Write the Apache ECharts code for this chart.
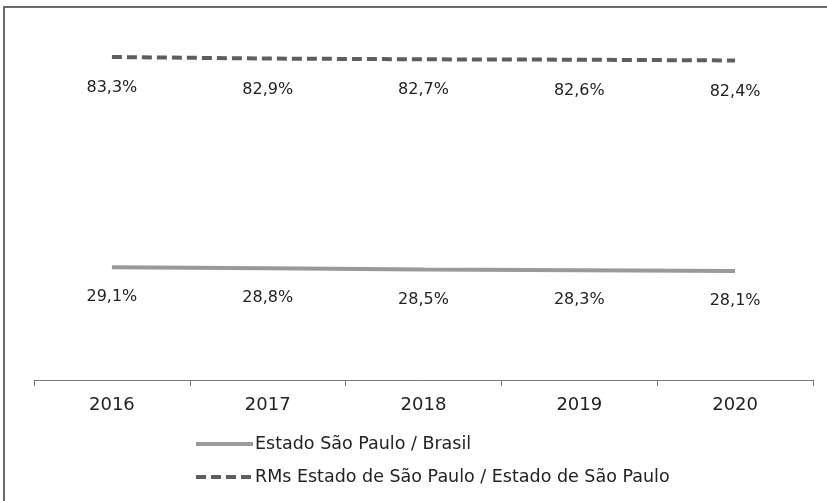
<!DOCTYPE html>
<html>
<head>
<meta charset="utf-8">
<script src="https://cdn.jsdelivr.net/npm/echarts@6/dist/echarts.min.js"></script>
<style>
html,body{margin:0;padding:0;background:#fff;}
#chart{width:827px;height:501px;}
</style>
</head>
<body>
<div id="chart"></div>
<script>
var years = ['2016', '2017', '2018', '2019', '2020'];
var estadoBrasil = [29.1, 28.8, 28.5, 28.3, 28.1];
var rmsEstado = [83.3, 82.9, 82.7, 82.6, 82.4];
var seriesNames = ['Estado São Paulo / Brasil', 'RMs Estado de São Paulo / Estado de São Paulo'];

function fmt(p) {
  return p.value.toFixed(1).replace('.', ',') + '%';
}

var chart = echarts.init(document.getElementById('chart'));
var font = 'DejaVu Sans';
chart.setOption({
  animation: false,
  backgroundColor: '#ffffff',
  textStyle: { fontFamily: font },
  graphic: [{
    type: 'polyline',
    shape: { points: [[4, 501], [4, 7], [827, 7]] },
    style: { stroke: '#6b6b6b', lineWidth: 2, fill: null }
  }],
  grid: { left: 34, right: 14, top: 31, bottom: 121 },
  legend: {
    orient: 'vertical',
    left: 189,
    top: 430,
    itemWidth: 57,
    itemHeight: 14,
    itemGap: 15,
    itemStyle: { opacity: 0 },
    lineStyle: { width: 4 },
    textStyle: { fontFamily: font, fontSize: 17.5, color: '#222', padding: [0, 0, 0, -3] },
    data: seriesNames
  },
  xAxis: {
    type: 'category',
    data: years,
    boundaryGap: true,
    axisLine: { lineStyle: { color: '#7a7a7a', width: 1 } },
    axisTick: { show: true, length: 6, inside: false, lineStyle: { color: '#7a7a7a' } },
    axisLabel: { fontFamily: font, fontSize: 18, color: '#222', margin: 16 }
  },
  yAxis: {
    type: 'value',
    min: 0,
    max: 90,
    show: false,
    splitLine: { show: false }
  },
  series: [{
    name: seriesNames[0],
    type: 'line',
    data: estadoBrasil,
    symbol: 'circle',
    symbolSize: 0,
    showSymbol: true,
    lineStyle: { color: '#9a9a9a', width: 4, type: 'solid' },
    itemStyle: { color: '#9a9a9a' },
    label: { show: true, position: 'bottom', distance: 22, formatter: fmt, fontFamily: font, fontSize: 16, color: '#222' }
  }, {
    name: seriesNames[1],
    type: 'line',
    data: rmsEstado,
    symbol: 'circle',
    symbolSize: 0,
    showSymbol: true,
    lineStyle: { color: '#5e5e5e', width: 4, type: [10, 5] },
    itemStyle: { color: '#5e5e5e' },
    label: { show: true, position: 'bottom', distance: 23, formatter: fmt, fontFamily: font, fontSize: 16, color: '#222' }
  }]
});
</script>
</body>
</html>
